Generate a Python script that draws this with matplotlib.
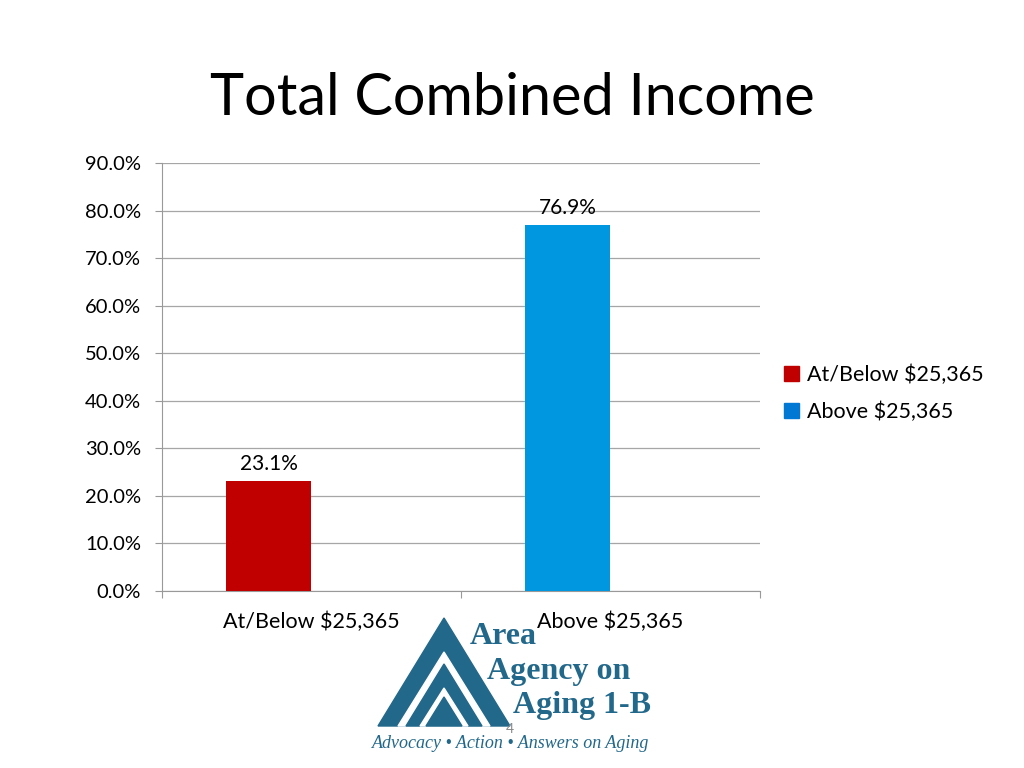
import matplotlib.pyplot as plt
from matplotlib.patches import Polygon

categories = ['At/Below $25,365', 'Above $25,365']
series_names = ['At/Below $25,365', 'Above $25,365']
values = [23.1, 76.9]
bar_colors = ['#C00000', '#0096E0']
legend_colors = ['#C00000', '#0078D4']
y_ticks = [0, 10, 20, 30, 40, 50, 60, 70, 80, 90]

plt.rcParams['font.family'] = ['Lato', 'DejaVu Sans']

fig = plt.figure(figsize=(10.24, 7.68), dpi=100)
ax = fig.add_axes([0.158, 0.2305, 0.584, 0.557])

w = 85 / 299
for i, (v, c) in enumerate(zip(values, bar_colors)):
    ax.bar(i + 0.5 - w / 2, v, width=w, color=c, zorder=3)
    ax.text(i + 0.5 - w / 2, v + 1.5, f'{v:.1f}%', ha='center', va='bottom', fontsize=15)

ax.set_xlim(0, 2)
ax.set_ylim(0, 90)
ax.set_yticks(y_ticks)
ax.set_yticklabels([f'{t:.1f}%' for t in y_ticks], fontsize=14.5)
ax.set_xticks([0, 1, 2])
ax.set_xticklabels(['', '', ''])
ax.set_xticks([0.5, 1.5], minor=True)
ax.set_xticklabels(categories, minor=True, fontsize=15.5)
ax.tick_params(axis='x', which='minor', length=0, pad=15)
ax.tick_params(axis='x', which='major', length=5, color='#999999')
ax.tick_params(axis='y', length=5, color='#999999', pad=10)
ax.grid(axis='y', color='#A6A6A6', linewidth=0.9, zorder=0)
for s in ['top', 'right']:
    ax.spines[s].set_visible(False)
ax.spines['left'].set_color('#999999')
ax.spines['bottom'].set_color('#999999')

handles = [plt.Rectangle((0, 0), 1, 1, color=c) for c in legend_colors]
fig.legend(handles, series_names, loc='center left', bbox_to_anchor=(0.747, 0.488),
           frameon=False, fontsize=15.5, handlelength=0.7, handleheight=0.7,
           handletextpad=0.35, labelspacing=0.8)

fig.text(0.5, 0.872, 'Total Combined Income', ha='center', va='center', fontsize=41.5)

# logo
logo = '#22688A'
def tri(x0, x1, apex_y, base_y, color):
    fig.patches.append(Polygon([(x0 / 1024, 1 - base_y / 768), (x1 / 1024, 1 - base_y / 768),
                                ((x0 + x1) / 2048, 1 - apex_y / 768)],
                               closed=True, transform=fig.transFigure, color=color, zorder=5))
tri(378, 510, 618, 726, logo)
tri(398, 490, 652, 726, 'white')
tri(406, 482, 664, 726, logo)
tri(420, 468, 688, 726, 'white')
tri(426, 462, 697, 726, logo)

lf = 'Liberation Serif'
fig.text(470 / 1024, 1 - 636 / 768, 'Area', fontsize=23, fontweight='bold', family=lf,
         color=logo, va='center', ha='left')
fig.text(487 / 1024, 1 - 671 / 768, 'Agency on', fontsize=23, fontweight='bold', family=lf,
         color=logo, va='center', ha='left')
fig.text(513 / 1024, 1 - 706 / 768, 'Aging 1-B', fontsize=23, fontweight='bold', family=lf,
         color=logo, va='center', ha='left')
fig.text(511 / 1024, 1 - 744 / 768, 'Advocacy • Action • Answers on Aging', fontsize=13,
         style='italic', family=lf, color=logo, va='center', ha='center')
fig.text(510 / 1024, 1 - 729 / 768, '4', fontsize=10, color='#888888', ha='center', va='center', zorder=6)

fig.savefig('out.png', dpi=100)
